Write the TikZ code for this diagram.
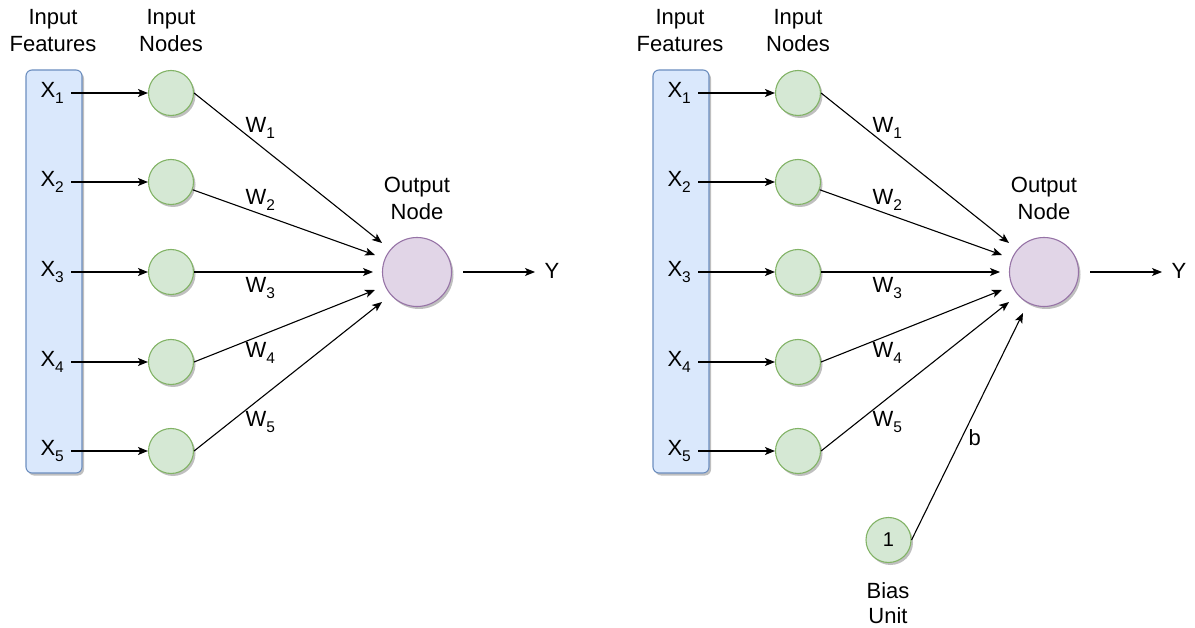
\documentclass[tikz,border=0pt]{standalone}
\usepackage{fontspec}
\setmainfont{Liberation Sans}
\usetikzlibrary{arrows.meta,shadows,calc}

\definecolor{featfill}{HTML}{DAE8FC}
\definecolor{featdraw}{HTML}{6C8EBF}
\definecolor{infill}{HTML}{D5E8D4}
\definecolor{indraw}{HTML}{82B366}
\definecolor{outfill}{HTML}{E1D5E7}
\definecolor{outdraw}{HTML}{9673A6}

% lowered subscript digit
\newcommand{\lowsub}[1]{\raisebox{-5.5pt}{\fontsize{15.5}{15.5}\selectfont #1}}

% one perceptron panel: #1 = name prefix, #2 = horizontal offset
\newcommand{\nnpanel}[2]{%
\begin{scope}[xshift=#2pt]
  \node[feat, minimum width=56pt, minimum height=403pt] (#1box) at (54,271.5) {};
  \node[lbl, anchor=base] (#1hfa) at (53,25) {Input};
  \node[lbl, anchor=base] (#1hfb) at (53,52) {Features};
  \node[lbl, anchor=base] (#1hna) at (171,25) {Input};
  \node[lbl, anchor=base] (#1hnb) at (171,52) {Nodes};
  \node[outnode] (#1out) at (417,272) {};
  \node[lbl, anchor=base] (#1hoa) at (417,193) {Output};
  \node[lbl, anchor=base] (#1hob) at (417,220) {Node};
  \node[lbl, anchor=base west] (#1y) at (544,279) {Y};
  \draw[->, shorten <=11pt, shorten >=9pt] (#1out.east) -- (#1y.west |- #1out);
  \foreach \i/\r/\wb/\dx/\dy in {1/93/133/-35/-29, 2/182/205/-42/-17,
      3/272/293/-44/0, 4/362/358/-42/18, 5/451/427/-35/30} {
    \node[innode] (#1in\i) at (171,\r) {};
    \node[lbl, anchor=base west] (#1x\i) at (40,\r+5) {X\lowsub{\i}};
    \draw[->, shorten <=7pt] (#1x\i.east |- #1in\i) -- (#1in\i);
    \coordinate (#1t\i) at ($(#1out)+(\dx,\dy)$);
    \ifnum\i=2
      \draw[->] (#1in\i) -- (#1t\i);
    \else
      \draw[->] (#1in\i.east) -- (#1t\i);
    \fi
    \node[lbl, anchor=base west] (#1w\i) at (245,\wb) {W\lowsub{\i}};
  }
\end{scope}}

\begin{document}
\begin{tikzpicture}[x=1pt, y=-1pt, line width=1.1pt,
  >={Stealth[length=10pt, width=8pt, inset=2.5pt]},
  lbl/.style={font=\fontsize{22}{26}\selectfont, inner sep=0pt},
  shade/.style={drop shadow={shadow xshift=2pt, shadow yshift=-2.5pt, opacity=0.25, fill=black}},
  feat/.style={rectangle, rounded corners=6pt, draw=featdraw, fill=featfill, shade},
  innode/.style={circle, minimum size=45pt, inner sep=0pt, draw=indraw, fill=infill, shade},
  outnode/.style={circle, minimum size=69pt, inner sep=0pt, draw=outdraw, fill=outfill, shade}]

  \useasboundingbox (0,0) rectangle (1195,628);

  \nnpanel{L}{0}
  \nnpanel{R}{627}

  % bias unit feeding the second output node
  \node[innode, font=\fontsize{20}{24}\selectfont] (bias) at (888.5,540) {1};
  \node[lbl, anchor=base] (biasa) at (888,598) {Bias};
  \node[lbl, anchor=base] (biasb) at (888,623) {Unit};
  \coordinate (tb) at ($(Rout)+(-21,41)$);
  \draw[->] (bias.east) -- (tb);
  \node[lbl, anchor=base west] (blab) at (968,446) {b};
\end{tikzpicture}
\end{document}
